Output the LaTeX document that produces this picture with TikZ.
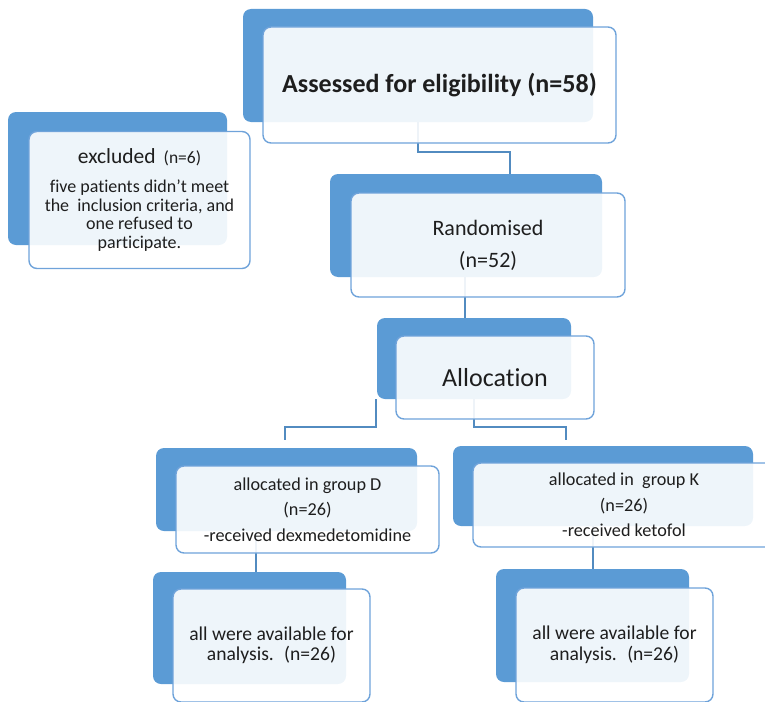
\documentclass[tikz,border=0pt]{standalone}
\usepackage{fontspec}
\setmainfont{Carlito}[Ligatures={NoCommon}]
\definecolor{boxblue}{HTML}{5B9BD5}
\definecolor{edgeblue}{HTML}{6FA3DA}
\definecolor{txt}{HTML}{1E1E1E}
\begin{document}
\begin{tikzpicture}[x=1pt,y=-1pt,
  back/.style={draw=none,fill=boxblue,rounded corners=8pt,inner sep=0pt},
  front/.style={draw=edgeblue,line width=1.4pt,fill=white,fill opacity=0.9,text opacity=1,
     rounded corners=8pt,inner sep=0pt,align=center,text=txt},
  conn/.style={draw=boxblue!90!black,line width=1.5pt}]
\useasboundingbox (0,0) rectangle (765,701);
% connector coordinates
\coordinate (ar1) at (510,174);
\coordinate (ld1) at (376,399);
\coordinate (ld2) at (285,440);
\coordinate (lk1) at (474,399);
\coordinate (lk2) at (566,440);
\coordinate (df1) at (256,531);
\coordinate (df2) at (256,572);
\coordinate (kf1) at (593,526);
\coordinate (kf2) at (593,569);
% back boxes
\node[back,minimum width=350pt,minimum height=113pt] (aB) at (418,65.5) {};
\node[back,minimum width=219pt,minimum height=133pt] (eB) at (117.5,178.5) {};
\node[back,minimum width=272pt,minimum height=103pt] (rB) at (466,225.5) {};
\node[back,minimum width=194pt,minimum height=81pt] (lB) at (474,358.5) {};
\node[back,minimum width=261pt,minimum height=83pt] (dB) at (286.5,489.5) {};
\node[back,minimum width=300pt,minimum height=80pt] (kB) at (603,486) {};
\node[back,minimum width=193pt,minimum height=112pt] (f1B) at (249.5,628) {};
\node[back,minimum width=193pt,minimum height=113pt] (f2B) at (592.5,625.5) {};
% connectors
\draw[conn] (aB.south) |- (ar1 |- 0,152) -- (ar1);
\draw[conn] (rB.south -| 465,0) -- (lB.north -| 465,0);
\draw[conn] (ld1) |- (ld2 |- 0,427) -- (ld2);
\draw[conn] (lk1) |- (lk2 |- 0,427) -- (lk2);
\draw[conn] (df1) -- (df2);
\draw[conn] (kf1) -- (kf2);
% front boxes
\node[front,minimum width=353pt,minimum height=116pt,font=\fontsize{26}{30}\selectfont\bfseries] (aF) at (439.5,85) {Assessed for eligibility (n=58)};
\node[front,minimum width=221pt,minimum height=137pt,font=\fontsize{18}{18.7}\selectfont] (eF) at (139.5,200)
  {{\fontsize{21.5}{22}\selectfont excluded}\hspace{8pt}{\fontsize{17.5}{20}\selectfont(n=6)}\\[10pt]
   five patients didn't meet\\ the~ inclusion criteria, and\\ one refused to\\ participate.};
\node[front,minimum width=274pt,minimum height=104pt,font=\fontsize{22}{32}\selectfont] (rF) at (488,245) {Randomised\\(n=52)};
\node[front,minimum width=198pt,minimum height=83pt,font=\fontsize{26}{28}\selectfont] (lF) at (495,377.5) {Allocation};
\node[front,minimum width=263pt,minimum height=87pt,font=\fontsize{18.2}{25.5}\selectfont] (dF) at (307.5,509.5) {allocated in group D\\(n=26)\\-received dexmedetomidine};
\node[front,minimum width=302pt,minimum height=84pt,font=\fontsize{18.2}{25.5}\selectfont] (kF) at (624,505) {allocated in~ group K\\(n=26)\\-received ketofol};
\node[front,minimum width=197pt,minimum height=113pt,font=\fontsize{19.6}{20.5}\selectfont] (f1F) at (271.5,645.5) {all were available for\\analysis.~ (n=26)};
\node[front,minimum width=197pt,minimum height=114pt,font=\fontsize{19.6}{20.5}\selectfont] (f2F) at (614.5,645) {all were available for\\analysis.~ (n=26)};
\end{tikzpicture}
\end{document}
